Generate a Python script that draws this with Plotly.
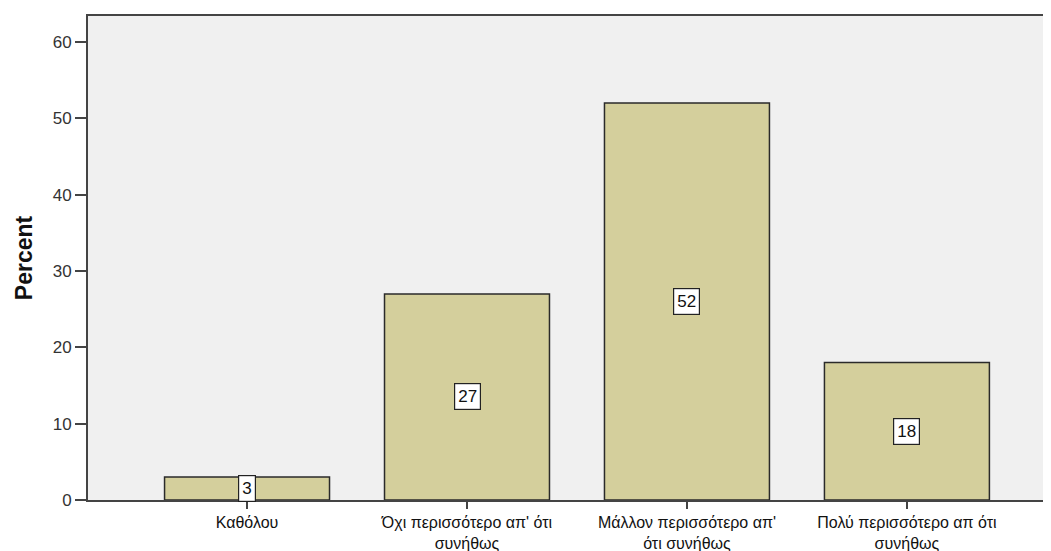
import plotly.graph_objects as go

categories = ["Καθόλου", "Όχι περισσότερο απ' ότι<br>συνήθως",
              "Μάλλον περισσότερο απ'<br>ότι συνήθως", "Πολύ περισσότερο απ ότι<br>συνήθως"]
percent = [3, 27, 52, 18]
y_ticks = [0, 10, 20, 30, 40, 50, 60]

font_fam = "Liberation Sans Narrow, Liberation Sans, Arial"
x_idx = list(range(len(categories)))

fig = go.Figure()
fig.add_trace(go.Bar(
    x=x_idx, y=percent, width=0.75,
    marker=dict(color="#d4cf9c", line=dict(color="#2a2a2a", width=1.5)),
    showlegend=False, hoverinfo="skip",
))

for xi, v in zip(x_idx, percent):
    fig.add_annotation(x=xi, y=v / 2, text=str(v), showarrow=False,
                       font=dict(family="Liberation Sans, Arial", size=17, color="#111"),
                       bgcolor="white", bordercolor="#222", borderwidth=1.2, borderpad=3)

fig.update_layout(
    width=1043, height=543,
    margin=dict(l=80, r=0, t=8, b=51),
    paper_bgcolor="white", plot_bgcolor="#f0f0f0",
    font=dict(family=font_fam, size=16, color="#222"),
    bargap=0.25,
)
fig.update_xaxes(
    range=[-0.723, 3.655], tickvals=x_idx, ticktext=categories,
    showline=True, linecolor="#444", linewidth=2, mirror=True,
    ticks="outside", ticklen=7, tickcolor="#444", tickwidth=1.5,
    showgrid=False, zeroline=False, automargin=False,
    tickfont=dict(family=font_fam, size=16, color="#111"),
)
fig.update_yaxes(
    range=[0, 63.4], tickvals=y_ticks,
    showline=True, linecolor="#444", linewidth=2,
    ticks="outside", ticklen=11, tickcolor="#444", tickwidth=1.5,
    showgrid=False, zeroline=False, automargin=False,
    tickfont=dict(family="Liberation Sans, Arial", size=17, color="#333"),
    title=dict(text="<b>Percent</b>", font=dict(family="Liberation Sans, Arial", size=23, color="#111"), standoff=14),
)

fig.write_html("out.html")
